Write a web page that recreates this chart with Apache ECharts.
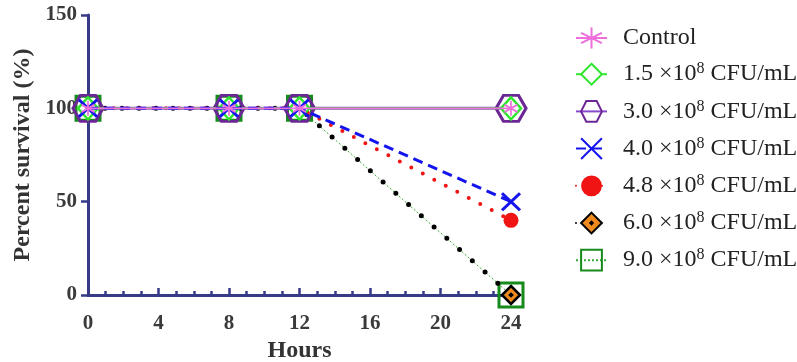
<!DOCTYPE html>
<html>
<head>
<meta charset="utf-8">
<script src="https://cdn.jsdelivr.net/npm/echarts@6/dist/echarts.min.js"></script>
<style>
html,body{margin:0;padding:0;background:#fff;}
#chart{width:797px;height:362px;}
</style>
</head>
<body>
<div id="chart"></div>
<script>
const hours = [0, 8, 12, 24];
const seriesNames = ['Control', '1.5 ×10^8 CFU/mL', '3.0 ×10^8 CFU/mL', '4.0 ×10^8 CFU/mL', '4.8 ×10^8 CFU/mL', '6.0 ×10^8 CFU/mL', '9.0 ×10^8 CFU/mL'];
const control = [100, 100, 100, 100];
const c15 = [100, 100, 100, 100];
const c30 = [100, 100, 100, 100];
const c40 = [100, 100, 100, 50];
const c48 = [100, 100, 100, 40];
const c60 = [100, 100, 100, 0];
const c90 = [100, 100, 100, 0];
const xTicks = [0, 4, 8, 12, 16, 20, 24];
const yTicks = [0, 50, 100, 150];

const pair = v => hours.map((h, i) => [h, v[i]]);
const SERIF = '"Liberation Serif", "Times New Roman", serif';
const AXIS = '#363a87';

const ASTER = 'path://M0,-1L0,1M-0.87,-0.5L0.87,0.5M-0.87,0.5L0.87,-0.5';
const HEX = 'path://M-1,0L-0.5,-0.866L0.5,-0.866L1,0L0.5,0.866L-0.5,0.866Z';
const XMARK = 'path://M-1,-1L1,1M-1,1L1,-1';
const DIAM = 'path://M0,-1L1,0L0,1L-1,0Z';
const DIAMDOT = 'path://M0,-1L1,0L0,1L-1,0ZM0,-0.12L0.12,0L0,0.12L-0.12,0Z';

const base = {type: 'line', emphasis: {disabled: true}, silent: true, clip: false};

const series = [
  Object.assign({}, base, {
    name: seriesNames[6], data: pair(c90), z: 2,
    symbol: 'rect', symbolSize: 24,
    itemStyle: {color: 'rgba(255,255,255,0)', borderColor: '#178a1c', borderWidth: 3},
    lineStyle: {color: '#3aa83a', width: 1, type: [2, 2]}
  }),
  Object.assign({}, base, {
    name: seriesNames[5], data: pair(c60), z: 3,
    symbol: DIAMDOT, symbolSize: 18,
    itemStyle: {color: '#ee8a1e', borderColor: '#000', borderWidth: 2.5},
    lineStyle: {color: '#000', width: 5, type: [0, 17], cap: 'round'}
  }),
  Object.assign({}, base, {
    name: seriesNames[4], data: pair(c48), z: 4,
    symbol: 'circle', symbolSize: 15,
    itemStyle: {color: '#f01414'},
    lineStyle: {color: '#f01414', width: 4, type: [0, 13], cap: 'round'}
  }),
  Object.assign({}, base, {
    name: seriesNames[2], data: pair(c30), z: 5,
    symbol: HEX, symbolSize: [30, 26],
    itemStyle: {color: 'rgba(255,255,255,0)', borderColor: '#6c2796', borderWidth: 3},
    lineStyle: {color: '#8a4ad0', width: 3}
  }),
  Object.assign({}, base, {
    name: seriesNames[1], data: pair(c15), z: 6,
    symbol: DIAM, symbolSize: [20, 22],
    itemStyle: {color: '#ffffff', borderColor: '#2ee62e', borderWidth: 2.5},
    lineStyle: {color: '#2ee62e', width: 2}
  }),
  Object.assign({}, base, {
    name: seriesNames[3], data: pair(c40), z: 7,
    symbol: XMARK, symbolSize: [18, 17],
    itemStyle: {color: '#1414ee', borderColor: '#1414ee', borderWidth: 3},
    lineStyle: {color: '#1414ee', width: 3, type: [10, 6]}
  }),
  Object.assign({}, base, {
    name: seriesNames[0], data: pair(control), z: 8,
    symbol: ASTER, symbolSize: [13, 15],
    itemStyle: {color: '#ec6fdc', borderColor: '#ec6fdc', borderWidth: 1.8},
    lineStyle: {color: '#ec6fdc', width: 1.6}
  })
];

const chart = echarts.init(document.getElementById('chart'), null, {renderer: 'canvas'});
chart.setOption({
  animation: false,
  backgroundColor: '#ffffff',
  grid: {left: 88, top: 15, width: 423, height: 280, containLabel: false, outerBoundsMode: 'none'},
  legend: {
    orient: 'vertical', left: 570, top: 21,
    itemWidth: 31, itemHeight: 26, itemGap: 11.2,
    selectedMode: false,
    data: seriesNames,
    formatter: function (name) {
      const parts = name.split('^8');
      if (parts.length === 1) return '{g|}{t|' + name + '}';
      return '{g|}{t|' + parts[0] + '}{sup|8}{t|' + parts[1] + '}';
    },
    textStyle: {
      rich: {
        g: {width: 11},
        t: {fontFamily: SERIF, fontSize: 24, color: '#222', lineHeight: 26},
        sup: {fontFamily: SERIF, fontSize: 16, color: '#222', lineHeight: 16, padding: [0, 0, 10, 0]}
      }
    }
  },
  xAxis: {
    type: 'value', min: 0, max: 24, interval: 4,
    name: 'Hours', nameLocation: 'middle', nameGap: 36,
    nameTextStyle: {fontFamily: SERIF, fontSize: 24, fontWeight: 'bold', color: '#333'},
    axisLine: {show: true, lineStyle: {color: AXIS, width: 3}},
    axisTick: {show: true, inside: true, length: 7, lineStyle: {color: AXIS, width: 2.5}},
    minorTick: {show: true, splitNumber: 4, length: 4, lineStyle: {color: AXIS, width: 2.5}},
    splitLine: {show: false},
    axisLabel: {
      margin: 18, fontFamily: SERIF, fontSize: 21, fontWeight: 'bold', color: '#3a3a3a',
      formatter: v => xTicks.indexOf(v) >= 0 ? String(v) : ''
    }
  },
  yAxis: {
    type: 'value', min: 0, max: 150, interval: 50,
    name: 'Percent survival (%)', nameLocation: 'middle', nameGap: 52,
    nameTextStyle: {fontFamily: SERIF, fontSize: 24, fontWeight: 'bold', color: '#333'},
    axisLine: {show: true, lineStyle: {color: AXIS, width: 3}},
    axisTick: {show: true, inside: false, length: 7, lineStyle: {color: AXIS, width: 2.5}},
    splitLine: {show: false},
    axisLabel: {
      margin: 11, fontFamily: SERIF, fontSize: 21, fontWeight: 'bold', color: '#3a3a3a',
      formatter: v => yTicks.indexOf(v) >= 0 ? String(v) : ''
    }
  },
  series: series
});
</script>
</body>
</html>
